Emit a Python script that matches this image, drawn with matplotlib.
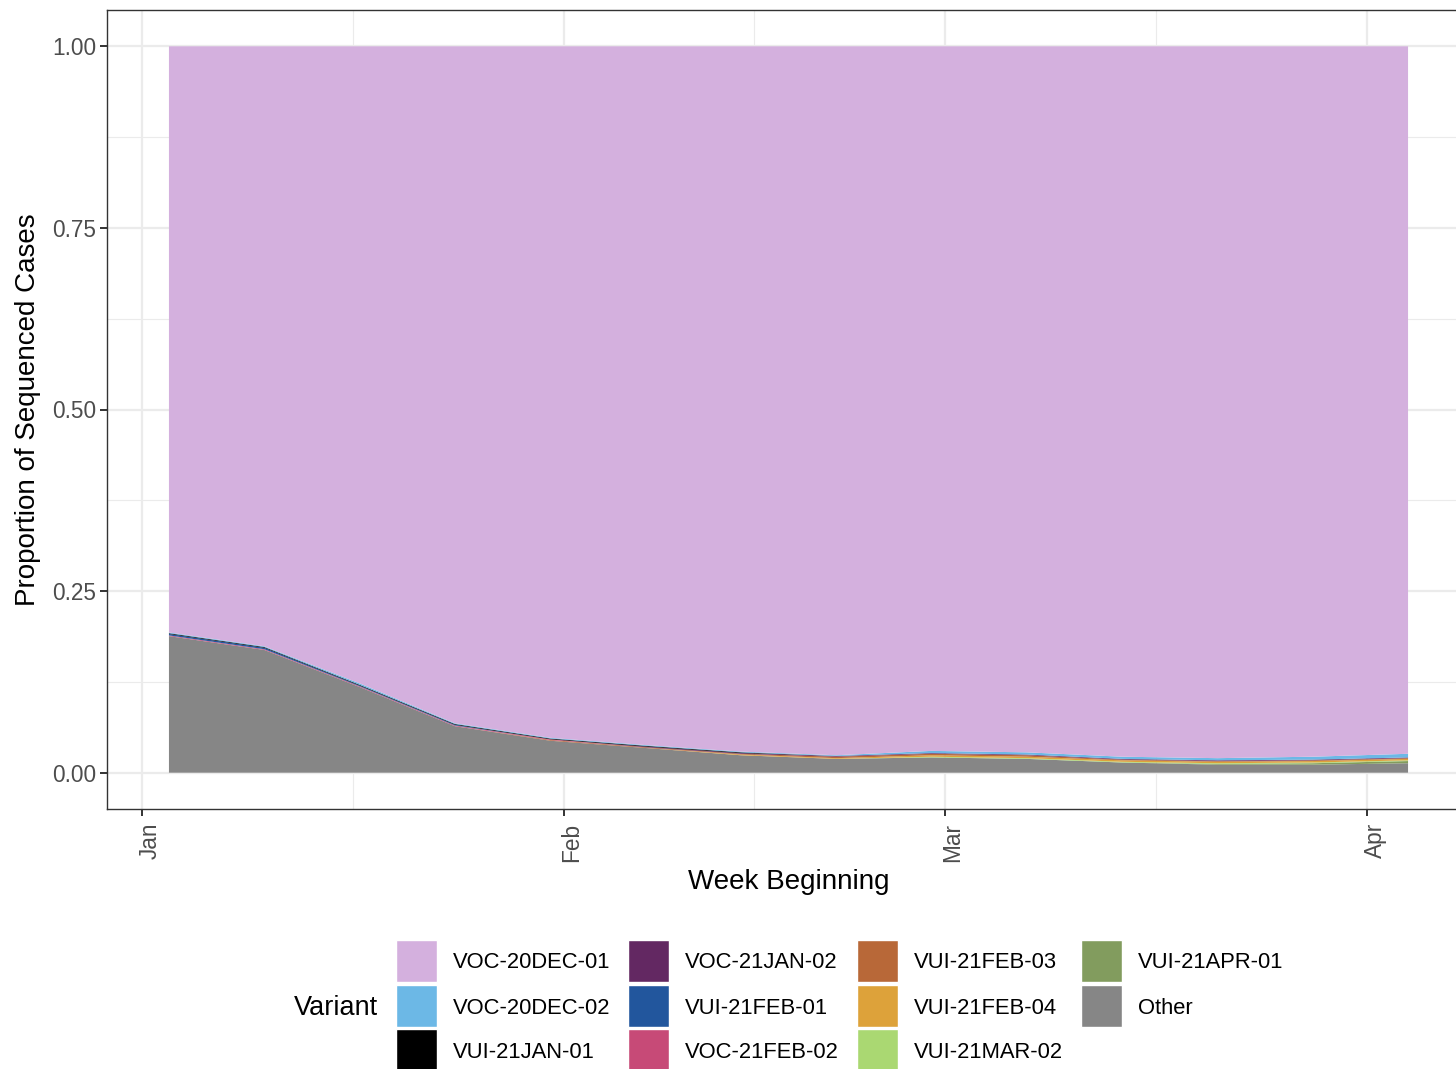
import numpy as np
import matplotlib
matplotlib.use("Agg")
import matplotlib.pyplot as plt
import matplotlib.dates as mdates
import matplotlib.transforms as mtrans
from matplotlib.patches import Rectangle

plt.rcParams['font.family'] = ['Liberation Sans', 'DejaVu Sans']

# weekly data, week beginning (Sundays)
weeks = np.arange(np.datetime64('2021-01-03'), np.datetime64('2021-04-05'), np.timedelta64(7, 'D'))

# proportions per week
other = [0.188, 0.169, 0.118, 0.064, 0.044, 0.034, 0.024, 0.019, 0.021, 0.019, 0.014, 0.011, 0.011, 0.013]
vui_21apr_01 = [0, 0, 0, 0, 0, 0, 0, 0, 0, 0, 0, 0.001, 0.002, 0.003]
vui_21mar_02 = [0, 0, 0, 0, 0, 0, 0, 0, 0.001, 0.001, 0.001, 0.001, 0.001, 0.001]
vui_21feb_04 = [0, 0, 0, 0, 0, 0, 0.001, 0.001, 0.002, 0.002, 0.002, 0.002, 0.002, 0.002]
vui_21feb_03 = [0, 0, 0, 0, 0.001, 0.001, 0.001, 0.002, 0.002, 0.002, 0.001, 0.001, 0.001, 0.001]
voc_21feb_02 = [0.001, 0.001, 0.001, 0.001, 0.001, 0, 0, 0, 0, 0, 0, 0, 0, 0]
vui_21feb_01 = [0.002, 0.002, 0.001, 0.001, 0, 0, 0, 0, 0, 0, 0, 0, 0, 0]
voc_21jan_02 = [0, 0, 0, 0, 0, 0.001, 0.001, 0.001, 0.001, 0.001, 0.001, 0.001, 0.001, 0.001]
vui_21jan_01 = [0.001, 0.001, 0.001, 0.001, 0.001, 0.001, 0.001, 0, 0, 0, 0, 0, 0, 0]
voc_20dec_02 = [0.001, 0.001, 0.002, 0.001, 0.001, 0.001, 0.001, 0.001, 0.003, 0.003, 0.003, 0.003, 0.004, 0.005]
voc_20dec_01 = [0.807, 0.826, 0.877, 0.932, 0.952, 0.962, 0.971, 0.976, 0.970, 0.972, 0.978, 0.980, 0.978, 0.974]

# legend order (top of stack first)
variants = ['VOC-20DEC-01', 'VOC-20DEC-02', 'VUI-21JAN-01', 'VOC-21JAN-02', 'VUI-21FEB-01',
            'VOC-21FEB-02', 'VUI-21FEB-03', 'VUI-21FEB-04', 'VUI-21MAR-02', 'VUI-21APR-01', 'Other']
series = [voc_20dec_01, voc_20dec_02, vui_21jan_01, voc_21jan_02, vui_21feb_01,
          voc_21feb_02, vui_21feb_03, vui_21feb_04, vui_21mar_02, vui_21apr_01, other]
colors = ['#D4B0DE', '#6CB8E6', '#000000', '#632862', '#22569D',
          '#C74A77', '#B86838', '#DDA23A', '#AAD872', '#829C5E', '#868686']

W, H = 1456, 1069
fig = plt.figure(figsize=(W / 100, H / 100), dpi=100)
ax = fig.add_axes([107 / W, 1 - 809 / H, (1470 - 107) / W, (809 - 10) / H])

x = mdates.date2num(weeks.astype('datetime64[D]').astype(object))
# stack bottom to top: Other first
ax.stackplot(x, *series[::-1], colors=colors[::-1], linewidth=0, zorder=2)

span = x[-1] - x[0]
ax.set_xlim(x[0] - 0.05 * span, x[-1] + 0.05 * span)
ax.set_ylim(-0.05, 1.05)

# ggplot theme_bw look
major_x = mdates.date2num([np.datetime64(d).astype(object) for d in
                           ['2021-01-01', '2021-02-01', '2021-03-01', '2021-04-01']])
minor_x = [(major_x[i] + major_x[i + 1]) / 2 for i in range(3)]
ax.set_xticks(major_x)
ax.set_xticklabels(['Jan', 'Feb', 'Mar', 'Apr'], rotation=90, va='top', ha='center')
ax.set_xticks(minor_x, minor=True)
ax.set_yticks([0, 0.25, 0.5, 0.75, 1.0])
ax.set_yticklabels(['0.00', '0.25', '0.50', '0.75', '1.00'])
ax.set_yticks([0.125, 0.375, 0.625, 0.875], minor=True)

ax.grid(which='major', color='#EBEBEB', linewidth=1.6, zorder=0)
ax.grid(which='minor', color='#EBEBEB', linewidth=0.8, zorder=0)
ax.set_axisbelow(True)
ax.tick_params(which='major', length=5, width=1.4, color='#333333',
               labelcolor='#4D4D4D', pad=3)
ax.tick_params(axis='y', labelsize=16.3)
ax.tick_params(axis='x', labelsize=16.3, pad=5)
ax.tick_params(which='minor', length=0)
# rotated month labels sit a little right of their tick, as in ggplot
shift = mtrans.ScaledTranslation(8 / 100, 0, fig.dpi_scale_trans)
for lab in ax.get_xticklabels():
    lab.set_transform(lab.get_transform() + shift)
for s in ax.spines.values():
    s.set_color('#333333')
    s.set_linewidth(1.0)

ax.set_xlabel('Week Beginning', fontsize=20, labelpad=5)
ax.set_ylabel('Proportion of Sequenced Cases', fontsize=20, labelpad=8)

# legend drawn at the bottom, 4 columns filled column-wise
fig.text(294 / W, 1 - 1008 / H, 'Variant', fontsize=19.5, va='center', ha='left')
col_x = [396, 628, 857, 1081]
row_y = [961, 1006, 1050]
for i, (lab, col) in enumerate(zip(variants, colors)):
    c, r = i // 3, i % 3
    kx, ky = col_x[c], row_y[r]
    fig.patches.append(Rectangle((kx / W, 1 - (ky + 21) / H), 41 / W, 42 / H,
                                 transform=fig.transFigure, facecolor=col,
                                 edgecolor='white', linewidth=1.0))
    fig.text((kx + 57) / W, 1 - (ky + 2) / H, lab, fontsize=15.8, va='center', ha='left')

fig.savefig('out.png', dpi=100)
